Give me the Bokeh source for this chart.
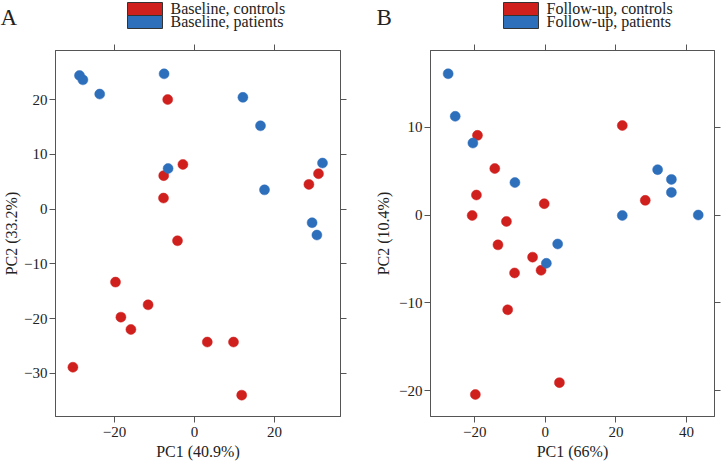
from bokeh.plotting import figure
from bokeh.models import (LinearAxis, Label, BoxAnnotation,
                          FixedTicker, Range1d, CustomJSTickFormatter)
from bokeh.layouts import row, column
from bokeh.embed import file_html
from bokeh.resources import INLINE

FONT = "Liberation Serif"
RED = "#d0201e"
BLUE = "#2e6fbc"
FRAME = "#555555"
TXT = "#222222"

# ---- Panel A: baseline ----
a_ctrl_x = [-6.7, -2.9, -7.7, -7.75, -4.25, 28.6, 31.0, -19.75, -11.6, -18.4, -15.9, 3.2, 9.75, -30.4, 11.8]
a_ctrl_y = [20.0, 8.15, 6.1, 2.0, -5.8, 4.5, 6.45, -13.35, -17.5, -19.75, -22.0, -24.3, -24.3, -28.9, -34.0]
a_pat_x = [-28.75, -27.9, -23.7, -7.6, 12.1, 16.5, -6.6, 17.5, 32.0, 29.4, 30.6]
a_pat_y = [24.4, 23.6, 21.0, 24.7, 20.4, 15.2, 7.4, 3.5, 8.4, -2.5, -4.75]
a_xticks = [-20, 0, 20]
a_yticks = [-30, -20, -10, 0, 10, 20]
a_names = ["Baseline, controls", "Baseline, patients"]

# ---- Panel B: follow-up ----
b_ctrl_x = [-19.2, 21.8, -14.3, -19.5, -20.7, -0.3, -11.0, 28.3, -13.4, -3.6, -8.7, -1.2, -10.65, -19.8, 4.0]
b_ctrl_y = [9.08, 10.2, 5.3, 2.28, -0.05, 1.29, -0.73, 1.67, -3.4, -4.8, -6.6, -6.3, -10.8, -20.45, -19.1]
b_pat_x = [-27.5, -25.5, -20.5, -8.6, 3.5, 0.3, 21.8, 31.8, 35.7, 35.7, 43.3]
b_pat_y = [16.1, 11.25, 8.2, 3.7, -3.3, -5.5, -0.05, 5.17, 4.06, 2.58, 0.0]
b_xticks = [-20, 0, 20, 40]
b_yticks = [-20, -10, 0, 10]
b_names = ["Follow-up, controls", "Follow-up, patients"]

W = 721
HEAD_H = 44
PLOT_H = 421
TOP = 6
BOTTOM = 49

minus_fmt = CustomJSTickFormatter(code="return tick < 0 ? '\\u2212' + Math.abs(tick) : String(tick);")
blank_fmt = CustomJSTickFormatter(code="return '';")


def style_axis(ax, ticks, show_labels, label=None, std=2, lstd=2):
    ax.ticker = FixedTicker(ticks=ticks)
    ax.minor_tick_line_color = None
    ax.major_tick_in = 0
    ax.major_tick_out = 6
    ax.major_tick_line_color = FRAME
    ax.axis_line_color = FRAME
    ax.major_label_text_font = FONT
    ax.major_label_text_color = TXT
    if show_labels:
        ax.formatter = minus_fmt
        ax.major_label_text_font_size = "15px"
        ax.major_label_standoff = std
    else:
        ax.formatter = blank_fmt
        ax.major_label_text_font_size = "1px"
        ax.major_label_standoff = 0
    if label:
        ax.axis_label = label
        ax.axis_label_text_font = FONT
        ax.axis_label_text_font_size = "16px"
        ax.axis_label_text_font_style = "normal"
        ax.axis_label_text_color = TXT
        ax.axis_label_standoff = lstd


# ---- shared header: panel letters and legend keys ----
head = figure(width=W, height=HEAD_H, x_range=Range1d(0, 1), y_range=Range1d(0, 1),
              output_backend="svg", toolbar_location=None,
              x_axis_location=None, y_axis_location=None,
              min_border=0, min_border_left=0, min_border_right=0,
              min_border_top=0, min_border_bottom=0,
              background_fill_color="white", border_fill_color="white",
              outline_line_color=None)
head.grid.visible = False


def sy(y_from_top):
    # screen units in Bokeh annotations are measured up from the frame bottom
    return HEAD_H - y_from_top


def add_key(names, box_left, text_left):
    # swatch rows: (top, bottom) measured from the top of the header
    for col, (t, b), name in zip((RED, BLUE), ((2, 15), (15, 28)), names):
        head.add_layout(BoxAnnotation(left=box_left, right=box_left + 35, top=sy(t), bottom=sy(b),
                                      left_units="screen", right_units="screen",
                                      top_units="screen", bottom_units="screen",
                                      fill_color=col, fill_alpha=1.0,
                                      line_color="#333333", line_alpha=1.0, line_width=1))
        head.add_layout(Label(x=text_left, y=sy((t + b) / 2 - 0.5), x_units="screen", y_units="screen",
                              text=name, text_font=FONT, text_font_size="16px",
                              text_color=TXT, text_baseline="middle", text_align="left"))


add_key(a_names, 127, 170)
add_key(b_names, 503, 546)
for letter, lx in (("A", 0), ("B", 376)):
    head.add_layout(Label(x=lx, y=sy(17), x_units="screen", y_units="screen",
                          text=letter, text_font=FONT, text_font_size="23px",
                          text_color=TXT, text_baseline="middle", text_align="left"))


def panel(width, left, right, xr, yr, xticks, yticks, cx, cy, px, py,
          xlabel, ylabel, ylstd):
    p = figure(width=width, height=PLOT_H, x_range=Range1d(*xr), y_range=Range1d(*yr),
               output_backend="svg", toolbar_location=None,
               min_border_left=left, min_border_right=right,
               min_border_top=TOP, min_border_bottom=BOTTOM,
               background_fill_color="white", border_fill_color="white",
               outline_line_color=FRAME)
    p.grid.visible = False
    style_axis(p.xaxis[0], xticks, True, xlabel, std=4, lstd=3)
    style_axis(p.yaxis[0], yticks, True, ylabel, std=2, lstd=ylstd)
    top_ax = LinearAxis()
    style_axis(top_ax, xticks, False)
    p.add_layout(top_ax, "above")
    right_ax = LinearAxis()
    style_axis(right_ax, yticks, False)
    p.add_layout(right_ax, "right")

    p.scatter(cx, cy, size=10, fill_color=RED, line_color=RED, line_width=0.5)
    p.scatter(px, py, size=10, fill_color=BLUE, line_color=BLUE, line_width=0.5)
    return p


pa = panel(360, 55, 20, (-34.75, 36.5), (-37.9, 28.96), a_xticks, a_yticks,
           a_ctrl_x, a_ctrl_y, a_pat_x, a_pat_y, "PC1 (40.9%)", "PC2 (33.2%)", 1)
pb = panel(361, 70, 7, (-32.5, 47.9), (-22.96, 18.75), b_xticks, b_yticks,
           b_ctrl_x, b_ctrl_y, b_pat_x, b_pat_y, "PC1 (66%)", "PC2 (10.4%)", 4)

layout = column(head, row(pa, pb, spacing=0), spacing=0)
open("out.html", "w").write(file_html(layout, INLINE))
